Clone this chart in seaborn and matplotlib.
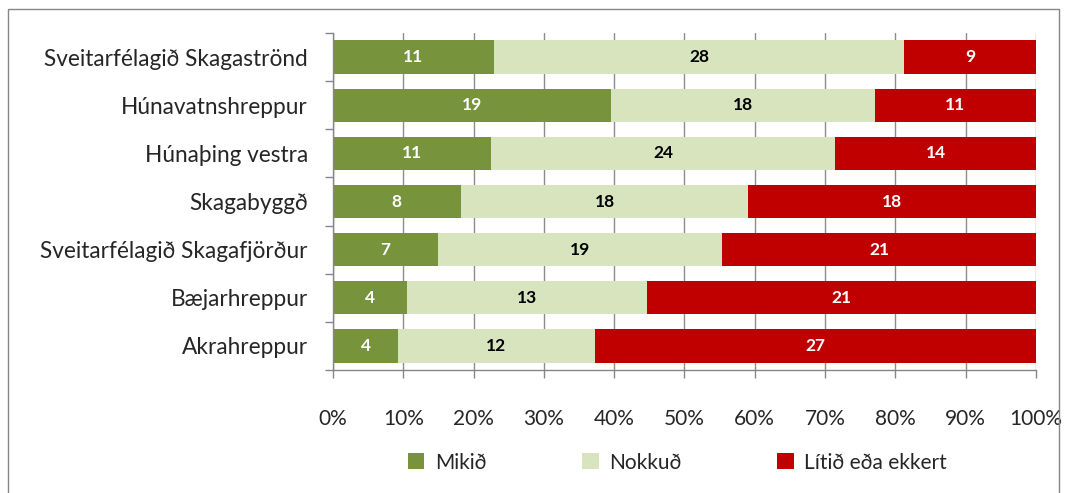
import numpy as np
import pandas as pd
import matplotlib.pyplot as plt
import seaborn as sns
from matplotlib.patches import Rectangle
from matplotlib.ticker import FixedLocator, PercentFormatter

# data (counts per answer)
sveitarfelog = ['Sveitarfélagið Skagaströnd', 'Húnavatnshreppur', 'Húnaþing vestra',
                'Skagabyggð', 'Sveitarfélagið Skagafjörður', 'Bæjarhreppur', 'Akrahreppur']
mikid = [11, 19, 11, 8, 7, 4, 4]
nokkud = [28, 18, 24, 18, 19, 13, 12]
litid = [9, 11, 14, 18, 21, 21, 27]
flokkar = ['Mikið', 'Nokkuð', 'Lítið eða ekkert']
litir = ['#77933C', '#D7E4BD', '#C00000']

df = pd.DataFrame({'Svf': sveitarfelog, 'Mikið': mikid, 'Nokkuð': nokkud, 'Lítið': litid})
df['total'] = df['Mikið'] + df['Nokkuð'] + df['Lítið']
df['p1'] = df['Mikið'] / df['total'] * 100
df['p2'] = (df['Mikið'] + df['Nokkuð']) / df['total'] * 100
df['p3'] = 100.0

sns.set_style('white')
plt.rcParams['font.family'] = ['Lato', 'DejaVu Sans']

fig = plt.figure(figsize=(10.67, 4.93), dpi=100)
ax = fig.add_axes([0.312, 0.2495, 0.659, 0.6835])

# stacked bars by overlaying cumulative totals
ax.set_axisbelow(True)
ax.xaxis.grid(True, color='#8C8C8C', linewidth=1)
for col, c, lab in zip(['p3', 'p2', 'p1'], litir[::-1], flokkar[::-1]):
    sns.barplot(data=df, x=col, y='Svf', color=c, width=0.69, ax=ax,
                orient='h', label=lab, saturation=1, linewidth=0)

# value labels
for i, row in df.iterrows():
    ax.text(row['p1'] / 2, i, str(row['Mikið']), ha='center', va='center',
            color='white', fontsize=12.5, fontweight='bold')
    ax.text((row['p1'] + row['p2']) / 2, i, str(row['Nokkuð']), ha='center', va='center',
            color='black', fontsize=12.5, fontweight='bold')
    ax.text((row['p2'] + 100) / 2, i, str(row['Lítið']), ha='center', va='center',
            color='white', fontsize=12.5, fontweight='bold')

ax.set_xlim(0, 100)
ax.set_ylim(6.5, -0.5)
ax.set_xticks(np.arange(0, 101, 10))
ax.xaxis.set_major_formatter(PercentFormatter(decimals=0))
ax.set_xlabel('')
ax.set_ylabel('')
ax.tick_params(axis='x', length=6, width=1, color='#868686', pad=22, labelsize=15, direction='out', bottom=True)
ax.tick_params(axis='y', which='major', length=0, pad=18, labelsize=16.3)
ax.yaxis.set_minor_locator(FixedLocator(np.arange(-0.5, 7, 1)))
ax.tick_params(axis='y', which='minor', length=6, width=1, color='#868686', left=True)
for s in ['top', 'right']:
    ax.spines[s].set_visible(False)
for s in ['left', 'bottom']:
    ax.spines[s].set_color('#868686')
    ax.spines[s].set_linewidth(1)

handles, labels = ax.get_legend_handles_labels()
order = [labels.index(f) for f in flokkar]
ax.legend([handles[k] for k in order], flokkar, loc='center', bbox_to_anchor=(0.49, -0.275),
          ncol=3, frameon=False, fontsize=15, handlelength=0.8, handleheight=0.8,
          columnspacing=4.6, handletextpad=0.5)

# outer chart frame
fig.patches.append(Rectangle((8 / 1067, -0.01), 1051 / 1067, 1 - 9 / 493 + 0.01,
                             transform=fig.transFigure, fill=False,
                             edgecolor='#868686', linewidth=1))

fig.savefig('out.png', dpi=100)
